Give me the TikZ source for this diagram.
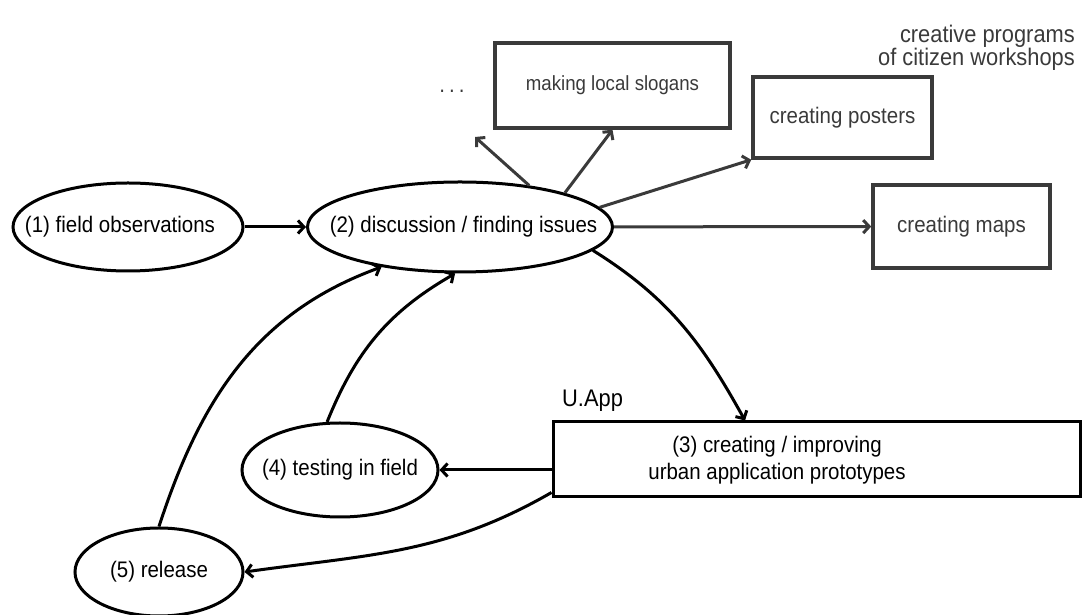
\documentclass[tikz,border=0pt]{standalone}
\usepackage{fontspec}
\setmainfont[FakeStretch=0.91]{Liberation Sans}
\usetikzlibrary{shapes.geometric,arrows.meta}
\definecolor{wsgray}{HTML}{3A3A3A}
\newcommand{\zw}[2][0pt]{\makebox[0pt]{\kern#1\relax#2}}
\begin{document}
\begin{tikzpicture}[x=1pt,y=1pt,
  every node/.style={font=\fontsize{22.5}{27}\selectfont},
  ell/.style={ellipse,draw=black,line width=3pt,inner sep=0pt},
  mainbox/.style={rectangle,draw=black,line width=3pt,inner sep=0pt},
  wsbox/.style={rectangle,draw=wsgray,line width=3.5pt,inner sep=0pt,text=wsgray},
  mainarr/.style={line width=3pt,draw=black,-{Straight Barb[length=6pt,width=13pt]}},
  wsarr/.style={line width=3pt,draw=wsgray,-{Straight Barb[length=6pt,width=13pt]}},
]
\useasboundingbox (0,0) rectangle (1087,615);
\node[ell,minimum width=230pt,minimum height=88pt] (e1) at (128,388) {\zw[-16pt]{(1) field observations}};
\node[ell,minimum width=305pt,minimum height=90pt] (e2) at (460,388) {\zw[7pt]{(2) discussion / finding issues}};
\node[mainbox,minimum width=527pt,minimum height=75pt] (e3) at (816.5,155.5) {};
\node[align=center] (e3txt) at (777,155) {(3) creating / improving\\urban application prototypes};
\node[ell,minimum width=196pt,minimum height=94pt] (e4) at (340,145) {\zw{(4) testing in field}};
\node[ell,minimum width=168pt,minimum height=88pt] (e5) at (159,43) {\zw{(5) release}};
\node[wsbox,minimum width=235pt,minimum height=85pt,font=\fontsize{20.5}{24}\selectfont] (slog) at (612.5,529.5) {making local slogans};
\node[wsbox,minimum width=179pt,minimum height=81pt] (post) at (842.5,497.5) {creating posters};
\node[wsbox,minimum width=177pt,minimum height=83pt] (maps) at (961.5,388.5) {creating maps};
\node[text=wsgray] (dots) at (452,524) {.\kern4pt.\kern4pt.};
\node[anchor=north east,align=right,inner sep=0pt,text=wsgray,font=\fontsize{24}{23}\selectfont] (title) at (1075,590) {creative programs\\of citizen workshops};
\node[anchor=base west,inner sep=0pt,font=\fontsize{24}{27}\selectfont] (uapp) at (562,208) {U.App};
\coordinate (dotsend) at (475,478);
\draw[mainarr] (e1) -- (e2);
\draw[wsarr] (e2) -- (maps);
\draw[wsarr] (e2.8) -- (post.south west);
\draw[wsarr] (e2.18) -- (slog.south);
\draw[wsarr] (e2.31) -- (dotsend);
\draw[mainarr] (e2.-10) to[out=-32,in=119] ([xshift=-71.5pt]e3.north);
\draw[mainarr] (e4.east -| e3.west) -- (e4.east);
\draw[mainarr] ([yshift=-33pt]e3.west) to[out=210,in=8] (e5.east);
\draw[mainarr] (e4.105) to[out=68,in=210] (e2.264);
\draw[mainarr] (e5.north) to[out=72,in=200] (e2.207);
\end{tikzpicture}
\end{document}
